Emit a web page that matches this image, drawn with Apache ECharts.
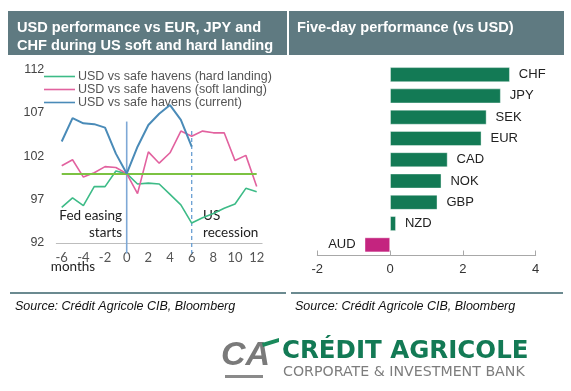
<!DOCTYPE html>
<html>
<head>
<meta charset="utf-8">
<script src="https://cdn.jsdelivr.net/npm/echarts@6/dist/echarts.min.js"></script>
<style>
html,body{margin:0;padding:0;background:#fff;}
#c{width:571px;height:391px;}
</style>
</head>
<body>
<div id="c"></div>
<script>
// ---- Left chart data ----
var months = ['-6','-5','-4','-3','-2','-1','0','1','2','3','4','5','6','7','8','9','10','11','12'];
var hardLanding = [96.1, 97.2, 96.3, 98.5, 98.5, 100.3, 100, 98.8, 98.9, 98.8, 97.6, 96.4, 94.3, 94.9, 95.4, 96.0, 96.5, 98.3, 97.9];
var softLanding = [100.9, 101.6, 99.6, 100.1, 100.8, 100.7, 100, 97.7, 102.5, 101.2, 102.4, 104.9, 104.3, 104.9, 104.7, 104.7, 101.5, 102.1, 98.5];
var current = [103.7, 106.4, 105.8, 105.7, 105.3, 102.3, 100, 103.1, 105.6, 106.9, 107.9, 106.2, 103.1];
var seriesNames = ['USD vs safe havens (hard landing)', 'USD vs safe havens (soft landing)', 'USD vs safe havens (current)'];
var baseline = 100;
// event markers: [month, top value, bottom value, dashed?]
var eventLines = [['0', 106.0, 90.8, 0], ['6', 104.9, 90.8, 1]];

// ---- Right chart data ----
var currencies = ['CHF','JPY','SEK','EUR','CAD','NOK','GBP','NZD','AUD'];
var fiveDay = [3.29, 3.04, 2.65, 2.51, 1.58, 1.41, 1.30, 0.16, -0.70];

var chart = echarts.init(document.getElementById('c'), null, {renderer:'canvas'});

var barData = fiveDay.map(function(v){
  return {
    value: v,
    itemStyle: {color: v < 0 ? '#c4247f' : '#137a55'},
    label: {position: v < 0 ? 'left' : 'right'}
  };
});

var titleColor = '#5f7a81';

chart.setOption({
  animation: false,
  grid: [
    {left: 56.3, top: 69.5, width: 205.8, height: 173.5},
    {left: 317.3, top: 64, width: 218.4, height: 191.5}
  ],
  legend: {
    orient: 'vertical',
    left: 39, top: 65,
    icon: 'rect',
    itemWidth: 31, itemHeight: 1.6,
    itemGap: 0,
    data: seriesNames,
    textStyle: {color: '#555', fontSize: 12.5, fontFamily: 'Liberation Sans', lineHeight: 12, padding: [0,0,0,-2]}
  },
  xAxis: [
    {
      gridIndex: 0, type: 'category', data: months, boundaryGap: true,
      axisLine: {lineStyle: {color: '#bdbdbd', width: 1}},
      axisTick: {inside: true, length: 4, interval: 0, lineStyle: {color: '#bdbdbd'}},
      axisLabel: {interval: 1, color: '#555', fontSize: 13, fontFamily: 'Lato', margin: 8}
    },
    {
      gridIndex: 1, type: 'value', min: -2, max: 4, interval: 2,
      axisLine: {show: true, lineStyle: {color: '#a8a8a8'}},
      axisTick: {show: true, inside: true, length: 5, lineStyle: {color: '#a8a8a8'}},
      axisLabel: {color: '#333', fontSize: 13, fontFamily: 'Liberation Sans', margin: 7},
      splitLine: {show: false}
    }
  ],
  yAxis: [
    {
      gridIndex: 0, type: 'value', min: 92, max: 112, interval: 5,
      axisLine: {show: false}, axisTick: {show: false},
      splitLine: {show: false},
      axisLabel: {color: '#444', fontSize: 12.5, fontFamily: 'Liberation Sans', margin: 12}
    },
    {
      gridIndex: 1, type: 'category', data: currencies, inverse: true,
      axisLine: {show: false}, axisTick: {show: false}, axisLabel: {show: false}
    }
  ],
  series: [
    {
      name: seriesNames[0], type: 'line', xAxisIndex: 0, yAxisIndex: 0,
      data: hardLanding, symbol: 'none',
      lineStyle: {color: '#3dbb87', width: 1.6}, itemStyle: {color: '#3dbb87'},
      z: 3,
      markLine: {
        silent: true, symbol: ['none','none'], label: {show: false},
        data: [
          [{coord: ['-6', baseline], lineStyle: {color: '#7cc242', width: 2, type: 'solid'}}, {coord: ['12', baseline]}]
        ]
      }
    },
    {
      name: seriesNames[1], type: 'line', xAxisIndex: 0, yAxisIndex: 0,
      data: softLanding, symbol: 'none',
      lineStyle: {color: '#e2629f', width: 1.6}, itemStyle: {color: '#e2629f'}, z: 4
    },
    {
      name: seriesNames[2], type: 'line', xAxisIndex: 0, yAxisIndex: 0,
      data: current, symbol: 'none',
      lineStyle: {color: '#4a8bb8', width: 2}, itemStyle: {color: '#4a8bb8'}, z: 5
    },
    {
      name: 'events', type: 'custom', xAxisIndex: 0, yAxisIndex: 0, clip: false, silent: true, z: 2,
      data: eventLines,
      renderItem: function(params, api){
        var x = api.value(0);
        var p1 = api.coord([x, api.value(1)]);
        var p2 = api.coord([x, api.value(2)]);
        var dashed = api.value(3) === 1;
        return {
          type: 'line',
          shape: {x1: p1[0], y1: p1[1], x2: p2[0], y2: p2[1]},
          style: {stroke: dashed ? '#6a9fd3' : '#7ea8d6', lineWidth: dashed ? 1.3 : 1.6, lineDash: dashed ? [4, 3] : null}
        };
      }
    },
    {
      name: 'five-day', type: 'bar', xAxisIndex: 1, yAxisIndex: 1,
      data: barData, barCategoryGap: '30%',
      itemStyle: {borderColor: 'rgba(255,255,255,0.5)', borderWidth: 0.8},
      label: {show: true, formatter: function(p){ return p.name; }, distance: 9,
              color: '#222', fontSize: 13, fontFamily: 'Liberation Sans'}
    }
  ],
  graphic: [
    {type: 'rect', shape: {x: 8, y: 11, width: 279, height: 44}, style: {fill: titleColor}},
    {type: 'rect', shape: {x: 289, y: 11, width: 275, height: 44}, style: {fill: titleColor}},
    {type: 'text', left: 17, top: 19, style: {text: 'USD performance vs EUR, JPY and\nCHF during US soft and hard landing', fill: '#fff', font: 'bold 14.6px "Liberation Sans"', lineHeight: 18}},
    {type: 'text', left: 297, top: 20, style: {text: 'Five-day performance (vs USD)', fill: '#fff', font: 'bold 14.6px "Liberation Sans"'}},
    {type: 'text', x: 122, y: 216, style: {text: 'Fed easing', fill: '#222', font: '13.5px Lato', textAlign: 'right', textVerticalAlign: 'middle'}},
    {type: 'text', x: 122, y: 233, style: {text: 'starts', fill: '#222', font: '13.5px Lato', textAlign: 'right', textVerticalAlign: 'middle'}},
    {type: 'text', x: 203, y: 216, style: {text: 'US', fill: '#222', font: '13.5px Lato', textAlign: 'left', textVerticalAlign: 'middle'}},
    {type: 'text', x: 203, y: 233, style: {text: 'recession', fill: '#222', font: '13.5px Lato', textAlign: 'left', textVerticalAlign: 'middle'}},
    {type: 'text', x: 73, y: 267, style: {text: 'months', fill: '#222', font: '13.5px Lato', textAlign: 'center', textVerticalAlign: 'middle'}},
    {type: 'rect', shape: {x: 10, y: 292, width: 276, height: 2}, style: {fill: '#6b8a90'}},
    {type: 'rect', shape: {x: 291, y: 292, width: 272, height: 2}, style: {fill: '#6b8a90'}},
    {type: 'text', x: 15, y: 307, style: {text: 'Source: Crédit Agricole CIB, Bloomberg', fill: '#111', font: 'italic 12.5px "Liberation Sans"', textVerticalAlign: 'middle'}},
    {type: 'text', x: 295, y: 307, style: {text: 'Source: Crédit Agricole CIB, Bloomberg', fill: '#111', font: 'italic 12.5px "Liberation Sans"', textVerticalAlign: 'middle'}},
    // logo
    {type: 'text', x: 221, y: 356, style: {text: 'CA', fill: '#7a7a7a', font: 'italic bold 34px "Liberation Sans"', textVerticalAlign: 'middle'}},
    {type: 'polygon', shape: {points: [[262,343],[279,338],[279,342],[263,347]]}, style: {fill: '#1a8a5c'}},
    {type: 'rect', shape: {x: 225, y: 375, width: 38, height: 3}, style: {fill: '#8a8a8a'}},
    {type: 'text', x: 282, y: 352, style: {text: 'CRÉDIT AGRICOLE', fill: '#137a55', font: 'bold 24.5px "DejaVu Sans"', textVerticalAlign: 'middle'}},
    {type: 'text', x: 283, y: 372, style: {text: 'CORPORATE & INVESTMENT BANK', fill: '#7d7d7d', font: '14.2px "DejaVu Sans"', textVerticalAlign: 'middle'}}
  ]
});
</script>
</body>
</html>
